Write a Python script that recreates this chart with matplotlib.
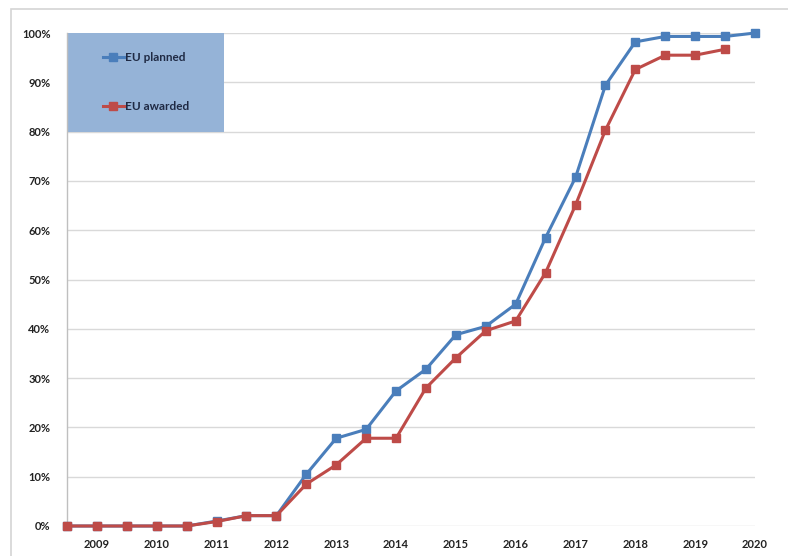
import matplotlib
matplotlib.use("Agg")
import matplotlib.pyplot as plt
from matplotlib.patches import Rectangle
from matplotlib.ticker import FuncFormatter, MultipleLocator

# Half-yearly observation points
periods = [2008.5 + 0.5 * i for i in range(24)]
year_labels = list(range(2009, 2021))

eu_planned = [0, 0, 0, 0, 0, 1.0, 2.1, 2.1, 10.5, 17.8, 19.6, 27.4,
              31.8, 38.8, 40.5, 45.0, 58.5, 70.7, 89.4, 98.2, 99.3, 99.3, 99.3, 100]
eu_awarded = [0, 0, 0, 0, 0, 0.9, 2.1, 2.1, 8.5, 12.4, 17.8, 17.8,
              28.0, 34.1, 39.6, 41.6, 51.4, 65.1, 80.3, 92.6, 95.5, 95.5, 96.7]

BLUE = "#4A7EBB"
RED = "#BE4B48"
FONT = ["Lato", "DejaVu Sans"]

W, H = 788, 556
fig = plt.figure(figsize=(W / 100, H / 100), dpi=100)

# Outer chart frame
fig.patches.append(Rectangle((11 / W, -0.1), 1.2, (H - 9) / H + 0.1,
                             transform=fig.transFigure, fill=False,
                             edgecolor="#D4D4D4", linewidth=1.2, clip_on=False))

ax = fig.add_axes([67 / W, (H - 526) / H, (755 - 67) / W, (526 - 33) / H])
ax.set_xlim(2008.5, 2020)
ax.set_ylim(0, 100)

ax.yaxis.set_major_locator(MultipleLocator(10))
ax.yaxis.set_major_formatter(FuncFormatter(lambda v, p: f"{int(round(v))}%"))
ax.grid(axis="y", color="#D9D9D9", linewidth=1.0)
ax.set_axisbelow(True)
ax.set_xticks(year_labels)
ax.set_xticklabels([str(y) for y in year_labels])
ax.tick_params(axis="both", length=0, labelsize=8, colors="#222222")
ax.tick_params(axis="y", pad=12)
ax.tick_params(axis="x", pad=9)
for lab in ax.get_xticklabels() + ax.get_yticklabels():
    lab.set_family(FONT)
    lab.set_fontweight("bold")

for side in ("top", "right", "bottom"):
    ax.spines[side].set_visible(False)
ax.spines["left"].set_color("#BFBFBF")
ax.spines["left"].set_linewidth(1.0)

ax.plot(periods, eu_planned, color=BLUE, linewidth=2.2, marker="s",
        markersize=5.5, label="EU planned", clip_on=False, zorder=3)
ax.plot(periods[:len(eu_awarded)], eu_awarded, color=RED, linewidth=2.2,
        marker="s", markersize=5.5, label="EU awarded", clip_on=False, zorder=4)

# Legend panel
ax.add_patch(Rectangle((0, 0.8), 157 / 688, 0.2, transform=ax.transAxes,
                       facecolor="#95B3D7", edgecolor="none", zorder=2))
leg = ax.legend(loc="center", bbox_to_anchor=(0.115, 0.9), frameon=False,
                labelspacing=3.2, handlelength=1.8, handletextpad=0.1,
                prop={"family": FONT, "weight": "bold", "size": 8.5})
for t in leg.get_texts():
    t.set_color("#1F2A44")
leg.set_zorder(5)

fig.savefig("out.png", dpi=100, facecolor="white")
